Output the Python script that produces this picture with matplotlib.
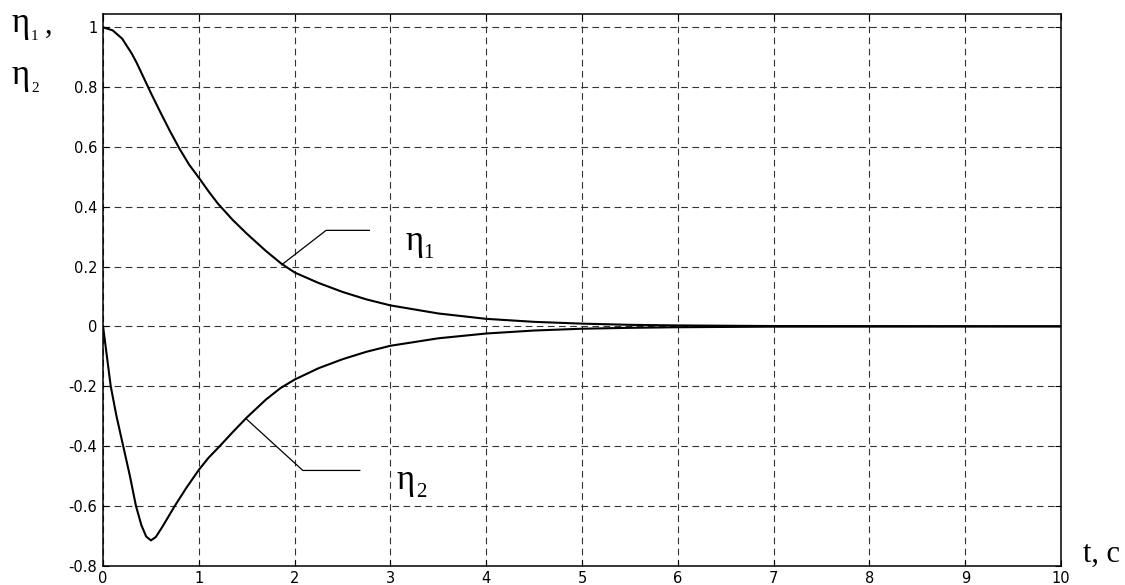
import matplotlib
matplotlib.use("Agg")
import matplotlib.pyplot as plt

# eta_1 transient
t1 = [0, 0.1, 0.2, 0.3, 0.35, 0.4, 0.5, 0.6, 0.7, 0.8, 0.9, 1.0, 1.1, 1.2,
      1.35, 1.5, 1.7, 1.86, 2.0, 2.25, 2.5, 2.75, 3.0, 3.5, 4.0, 4.5, 5.0,
      5.5, 6.0, 7.0, 10.0]
eta1 = [1.0, 0.99, 0.962, 0.912, 0.882, 0.848, 0.78, 0.715, 0.652, 0.593,
        0.54, 0.497, 0.452, 0.41, 0.357, 0.31, 0.252, 0.21, 0.18, 0.145,
        0.115, 0.09, 0.07, 0.043, 0.025, 0.015, 0.009, 0.005, 0.003, 0.001,
        0.0]

# eta_2 transient
t2 = [0, 0.04, 0.08, 0.14, 0.21, 0.28, 0.343, 0.40, 0.45, 0.50, 0.55, 0.62,
      0.75, 0.87, 1.0, 1.1, 1.22, 1.35, 1.5, 1.7, 1.85, 2.0, 2.25, 2.5, 2.75,
      3.0, 3.5, 4.0, 4.5, 5.0, 5.5, 6.0, 7.0, 10.0]
eta2 = [0.0, -0.1, -0.2, -0.3, -0.4, -0.5, -0.6, -0.665, -0.703, -0.716,
        -0.705, -0.67, -0.6, -0.54, -0.48, -0.44, -0.4, -0.355, -0.305,
        -0.245, -0.207, -0.178, -0.14, -0.11, -0.085, -0.065, -0.04, -0.024,
        -0.014, -0.008, -0.005, -0.003, -0.001, 0.0]

xticks = list(range(0, 11))
yticks = [-0.8, -0.6, -0.4, -0.2, 0, 0.2, 0.4, 0.6, 0.8, 1.0]
ytick_labels = ["-0.8", "-0.6", "-0.4", "-0.2", "0", "0.2", "0.4", "0.6", "0.8", "1"]

SERIF = "Liberation Serif"
W, H = 1125, 585


def px_text(fig, x, y, s, size):
    # place serif text by pixel position (y = baseline from the top)
    fig.text(x / W, 1 - y / H, s, fontsize=size, family=SERIF,
             ha="left", va="baseline")


fig = plt.figure(figsize=(11.25, 5.85), dpi=100)
ax = fig.add_axes([0.0916, 0.0333, 0.8516, 0.9427])

ax.plot(t1, eta1, color="black", linewidth=1.5)
ax.plot(t2, eta2, color="black", linewidth=1.5)

ax.set_xlim(0, 10)
ax.set_ylim(-0.8, 1.0445)
ax.set_xticks(xticks)
ax.set_xticklabels([str(v) for v in xticks])
ax.set_yticks(yticks)
ax.set_yticklabels(ytick_labels)
ax.tick_params(direction="in", length=4, width=0.8, top=True, right=True,
               labelsize=10.5, pad=4)
ax.grid(True, color="0.2", linewidth=0.8, linestyle=(0, (6, 4)))
for s in ax.spines.values():
    s.set_linewidth(1.1)

# leader lines
ax.plot([1.865, 2.328, 2.78], [0.206, 0.321, 0.321], color="black", linewidth=0.9)
ax.plot([1.50, 2.085, 2.68], [-0.311, -0.482, -0.482], color="black", linewidth=0.9)

# curve labels
px_text(fig, 405, 250, "η", 25)
px_text(fig, 423, 258, "1", 15)
px_text(fig, 397, 489, "η", 25)
px_text(fig, 416, 497, "2", 15)

# y axis label
px_text(fig, 11, 32, "η", 25)
px_text(fig, 31, 40, "1", 11)
px_text(fig, 45, 33, ",", 22)
px_text(fig, 11, 84, "η", 25)
px_text(fig, 31, 92, "2", 11)

# x axis label
px_text(fig, 1083, 562, "t, c", 22)

fig.savefig("out.png", dpi=100)
